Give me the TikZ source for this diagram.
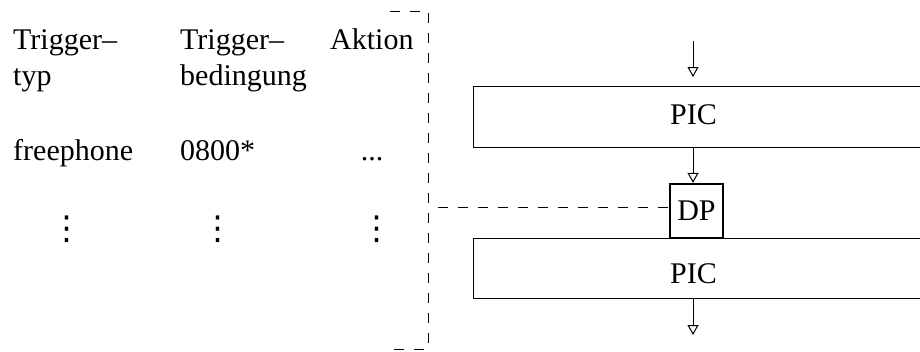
\documentclass[tikz,border=0pt]{standalone}
\usepackage{fontspec}
\setmainfont{Liberation Serif}
\newfontfamily\symfont{DejaVu Sans}
\usetikzlibrary{arrows.meta}
\tikzset{
  txt/.style={inner sep=0pt, anchor=base west},
  dotcol/.style={inner sep=0pt, font=\symfont\fontsize{33}{36}\selectfont},
  box/.style={draw, line width=1.2pt, inner sep=0pt, anchor=north west},
  dpbox/.style={draw, line width=2.2pt, inner sep=0pt, minimum width=53pt, minimum height=54pt},
  flow/.style={line width=1pt, -{Triangle[open, length=10pt, width=11pt]}},
  sep/.style={line width=1pt, dash pattern=on 10pt off 10pt},
}
\begin{document}
\begin{tikzpicture}[x=1pt, y=-1pt, font=\fontsize{30}{36}\selectfont]
\clip (0,0) rectangle (920,351);
\fill[white] (0,0) rectangle (920,351);

% trigger table
\node[txt] (h1a) at (13,49) {Trigger–};
\node[txt] (h1b) at (13,85) {typ};
\node[txt] (h2a) at (180,49) {Trigger–};
\node[txt] (h2b) at (180,85) {bedingung};
\node[txt] (h3)  at (330,49) {Aktion};
\node[txt] (r1)  at (13,160) {freephone};
\node[txt] (r2)  at (180,160) {0800*};
\node[inner sep=0pt, anchor=base] (r3) at (372,160) {...};
\node[dotcol] (d1) at (67,229) {⋮};
\node[dotcol] (d2) at (218,229) {⋮};
\node[dotcol] (d3) at (377,229) {⋮};

% bracket round the table
\draw[sep] (390,11) -- (428,11) -- (428,349) -- (390,349);

% call model: two PIC blocks with a detection point between them
\coordinate (axis) at (693,0);
\node[box, minimum width=480pt, minimum height=61pt] (pic1) at (473,86) {};
\node[box, minimum width=480pt, minimum height=60pt] (pic2) at (473,238) {};
\node[inner sep=0pt, anchor=base] (pic1t) at (693.5,124) {PIC};
\node[inner sep=0pt, anchor=base] (pic2t) at (693.5,283) {PIC};
\node[dpbox] (dp) at (696.5,211) {DP};

\coordinate (in0) at (693,41);
\coordinate (in1) at (693,77);
\coordinate (out) at (693,335);
\draw[flow] (in0) -- (in1);
\draw[flow] (pic1.south -| axis) -- (dp.north -| axis);
\draw[flow] (pic2.south -| axis) -- (out);

% link from the table to the detection point
\coordinate (tap) at (438,207);
\draw[sep] (tap) -- (tap -| dp.west);
\end{tikzpicture}
\end{document}
